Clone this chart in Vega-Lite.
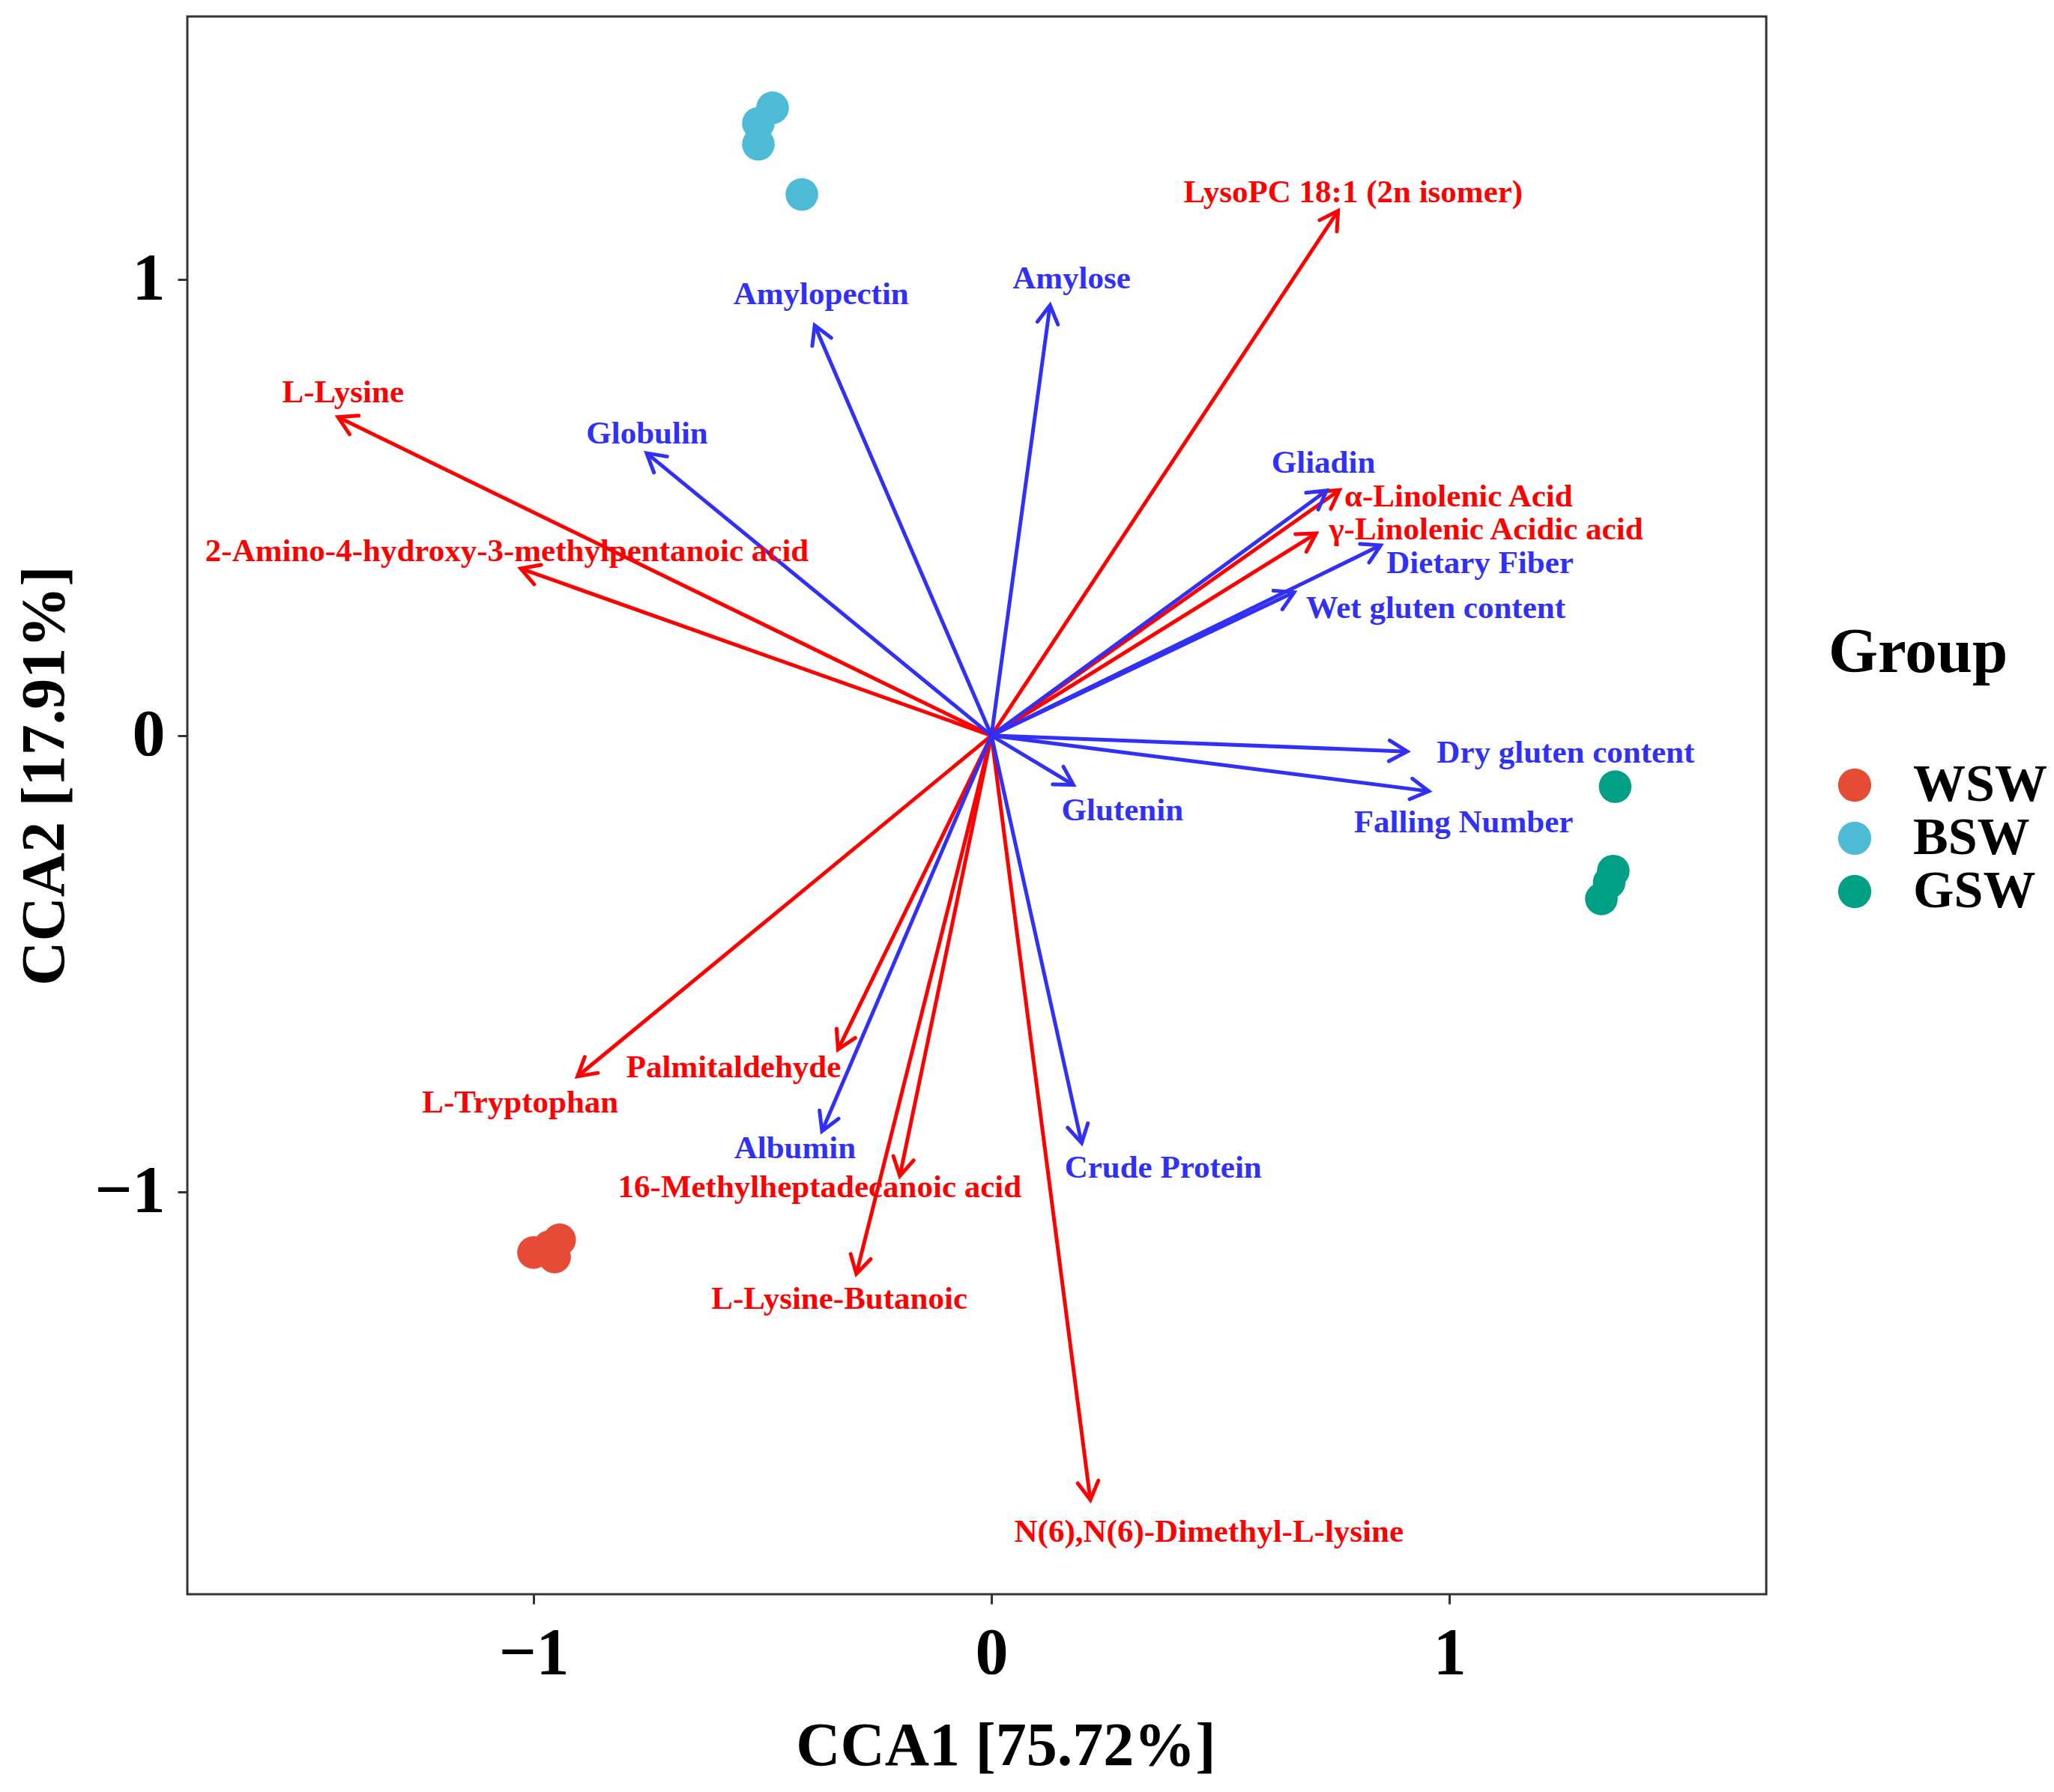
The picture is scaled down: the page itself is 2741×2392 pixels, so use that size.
{
  "$schema": "https://vega.github.io/schema/vega-lite/v6.json",
  "autosize": "none",
  "width": 2107,
  "height": 2106,
  "padding": {"left": 250, "top": 22, "right": 384, "bottom": 264},
  "background": "white",
  "config": {
    "font": "Liberation Serif",
    "view": {"stroke": "#333333", "strokeWidth": 3},
    "axis": {
      "domain": false,
      "grid": false,
      "tickColor": "#333333",
      "tickWidth": 3,
      "tickSize": 13,
      "labelFont": "Liberation Serif",
      "labelFontWeight": "bold",
      "labelFontSize": 88,
      "labelColor": "black",
      "labelLimit": 0,
      "format": "d",
      "titleFont": "Liberation Serif",
      "titleFontWeight": "bold",
      "titleFontSize": 82,
      "titleColor": "black",
      "titleLimit": 0
    },
    "legend": {
      "titleFont": "Liberation Serif",
      "titleFontWeight": "bold",
      "titleFontSize": 85,
      "titleColor": "black",
      "titleLimit": 0,
      "labelFont": "Liberation Serif",
      "labelFontWeight": "bold",
      "labelFontSize": 70,
      "labelColor": "black",
      "labelLimit": 0
    }
  },
  "datasets": {
    "arrows": [
      {"label": "LysoPC 18:1 (2n isomer)", "type": "Metabolite", "x": 0.757, "y": 1.150, "lx": 0.790, "ly": 1.190},
      {"label": "L-Lysine", "type": "Metabolite", "x": -1.427, "y": 0.698, "lx": -1.416, "ly": 0.752},
      {"label": "2-Amino-4-hydroxy-3-methylpentanoic acid", "type": "Metabolite", "x": -1.028, "y": 0.366, "lx": -1.058, "ly": 0.404},
      {"label": "α-Linolenic Acid", "type": "Metabolite", "x": 0.760, "y": 0.538, "lx": 1.020, "ly": 0.524},
      {"label": "γ-Linolenic Acidic acid", "type": "Metabolite", "x": 0.709, "y": 0.443, "lx": 1.080, "ly": 0.452},
      {"label": "L-Tryptophan", "type": "Metabolite", "x": -0.904, "y": -0.747, "lx": -1.029, "ly": -0.805},
      {"label": "Palmitaldehyde", "type": "Metabolite", "x": -0.335, "y": -0.688, "lx": -0.563, "ly": -0.727},
      {"label": "16-Methylheptadecanoic acid", "type": "Metabolite", "x": -0.200, "y": -0.965, "lx": -0.375, "ly": -0.990},
      {"label": "L-Lysine-Butanoic", "type": "Metabolite", "x": -0.295, "y": -1.180, "lx": -0.332, "ly": -1.235},
      {"label": "N(6),N(6)-Dimethyl-L-lysine", "type": "Metabolite", "x": 0.216, "y": -1.675, "lx": 0.475, "ly": -1.745},
      {"label": "Amylose", "type": "Physicochemical", "x": 0.128, "y": 0.943, "lx": 0.175, "ly": 1.001},
      {"label": "Amylopectin", "type": "Physicochemical", "x": -0.386, "y": 0.899, "lx": -0.372, "ly": 0.967},
      {"label": "Globulin", "type": "Physicochemical", "x": -0.753, "y": 0.619, "lx": -0.752, "ly": 0.662},
      {"label": "Gliadin", "type": "Physicochemical", "x": 0.732, "y": 0.537, "lx": 0.725, "ly": 0.598},
      {"label": "Dietary Fiber", "type": "Physicochemical", "x": 0.850, "y": 0.417, "lx": 1.067, "ly": 0.378},
      {"label": "Wet gluten content", "type": "Physicochemical", "x": 0.661, "y": 0.314, "lx": 0.970, "ly": 0.279},
      {"label": "Dry gluten content", "type": "Physicochemical", "x": 0.908, "y": -0.035, "lx": 1.254, "ly": -0.038},
      {"label": "Falling Number", "type": "Physicochemical", "x": 0.955, "y": -0.122, "lx": 1.031, "ly": -0.190},
      {"label": "Glutenin", "type": "Physicochemical", "x": 0.179, "y": -0.108, "lx": 0.286, "ly": -0.164},
      {"label": "Crude Protein", "type": "Physicochemical", "x": 0.197, "y": -0.893, "lx": 0.375, "ly": -0.947},
      {"label": "Albumin", "type": "Physicochemical", "x": -0.370, "y": -0.867, "lx": -0.429, "ly": -0.905}
    ],
    "samples": [
      {"Group": "WSW", "CCA1": -0.943, "CCA2": -1.105},
      {"Group": "WSW", "CCA1": -1.000, "CCA2": -1.133},
      {"Group": "WSW", "CCA1": -0.954, "CCA2": -1.143},
      {"Group": "WSW", "CCA1": -0.965, "CCA2": -1.120},
      {"Group": "BSW", "CCA1": -0.478, "CCA2": 1.376},
      {"Group": "BSW", "CCA1": -0.509, "CCA2": 1.342},
      {"Group": "BSW", "CCA1": -0.509, "CCA2": 1.296},
      {"Group": "BSW", "CCA1": -0.414, "CCA2": 1.186},
      {"Group": "GSW", "CCA1": 1.362, "CCA2": -0.112},
      {"Group": "GSW", "CCA1": 1.358, "CCA2": -0.297},
      {"Group": "GSW", "CCA1": 1.349, "CCA2": -0.322},
      {"Group": "GSW", "CCA1": 1.332, "CCA2": -0.358}
    ]
  },
  "layer": [
    {
      "mark": {"type": "rule", "color": "black", "strokeWidth": 4, "strokeDash": [20, 16]},
      "encoding": {"x": {"datum": 0, "type": "quantitative", "scale": {"domain": [-1.756, 1.692], "nice": false, "zero": false}}}
    },
    {
      "mark": {"type": "rule", "color": "black", "strokeWidth": 4, "strokeDash": [20, 16]},
      "encoding": {"y": {"datum": 0, "type": "quantitative", "scale": {"domain": [-1.882, 1.576], "nice": false, "zero": false}}}
    },
    {
      "data": {"name": "arrows"},
      "mark": {"type": "rule", "strokeWidth": 5},
      "encoding": {
        "x": {"field": "x", "type": "quantitative"},
        "y": {"field": "y", "type": "quantitative"},
        "x2": {"datum": 0},
        "y2": {"datum": 0},
        "stroke": {"field": "type", "type": "nominal", "scale": {"domain": ["Metabolite", "Physicochemical"], "range": ["#FF0000", "#3030F8"]}, "legend": null}
      }
    },
    {
      "data": {"name": "arrows"},
      "transform": [{"calculate": "atan2(datum.x, datum.y) * 180 / PI", "as": "ang"}],
      "mark": {"type": "point", "shape": "M -0.577 1 L 0 0 L 0.577 1", "filled": false, "strokeWidth": 5, "size": 2300, "opacity": 1, "strokeCap": "round", "strokeJoin": "miter"},
      "encoding": {
        "x": {"field": "x", "type": "quantitative"},
        "y": {"field": "y", "type": "quantitative"},
        "angle": {"field": "ang", "type": "quantitative", "scale": null},
        "stroke": {"field": "type", "type": "nominal", "legend": null}
      }
    },
    {
      "data": {"name": "arrows"},
      "mark": {"type": "text", "font": "Liberation Serif", "fontWeight": "bold", "fontSize": 43, "align": "center", "baseline": "middle"},
      "encoding": {
        "x": {"field": "lx", "type": "quantitative"},
        "y": {"field": "ly", "type": "quantitative"},
        "text": {"field": "label"},
        "fill": {"field": "type", "type": "nominal", "scale": {"domain": ["Metabolite", "Physicochemical"], "range": ["#FF0000", "#3030F8"]}, "legend": null}
      }
    },
    {
      "data": {"name": "samples"},
      "mark": {"type": "point", "filled": true, "size": 1900, "opacity": 1},
      "encoding": {
        "x": {"field": "CCA1", "type": "quantitative", "axis": {"title": "CCA1 [75.72%]", "values": [-1, 0, 1], "labelPadding": 22, "titleX": 1092, "titleY": 227, "titleBaseline": "alphabetic"}},
        "y": {"field": "CCA2", "type": "quantitative", "axis": {"title": "CCA2 [17.91%]", "values": [-1, 0, 1], "labelPadding": 17, "titleX": -166, "titleY": 1013, "titleBaseline": "alphabetic"}},
        "color": {
          "field": "Group", "type": "nominal",
          "scale": {"domain": ["WSW", "BSW", "GSW"], "range": ["#E64B35", "#4DBBD5", "#00A087"]},
          "legend": {"title": "Group", "orient": "none", "legendX": 2190, "legendY": 808, "symbolType": "circle", "symbolSize": 1960, "symbolStrokeWidth": 0, "labelOffset": 43, "titlePadding": 98, "rowPadding": 1}
        }
      }
    }
  ]
}
